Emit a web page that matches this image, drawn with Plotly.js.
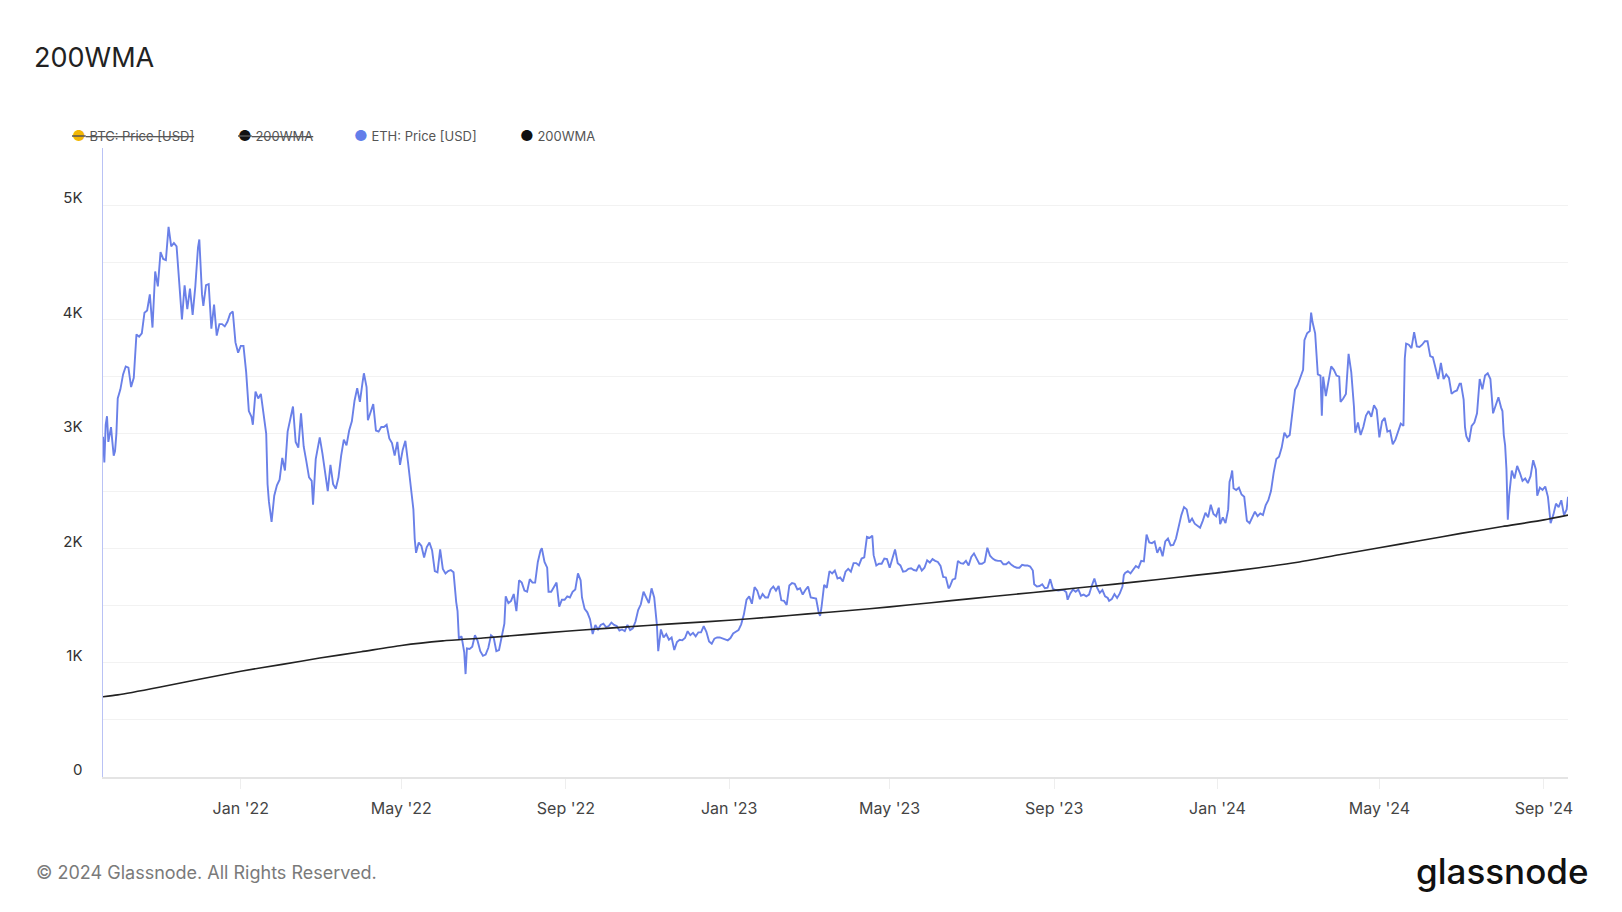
<!DOCTYPE html>
<html><head><meta charset="utf-8">
<script src="https://cdn.plot.ly/plotly-3.0.1.min.js"></script>
<style>html,body{margin:0;padding:0;background:#fff;}#chart{width:1622px;height:912px;}</style>
</head><body><div id="chart"></div>
<script>
const ethDates = [
"2021-09-20","2021-09-21","2021-09-22","2021-09-23","2021-09-24","2021-09-26","2021-09-27","2021-09-28","2021-09-29","2021-09-30",
"2021-10-01","2021-10-03","2021-10-05","2021-10-07","2021-10-09","2021-10-11","2021-10-13","2021-10-15","2021-10-17","2021-10-19","2021-10-21","2021-10-23","2021-10-25","2021-10-27","2021-10-29","2021-10-31",
"2021-11-02","2021-11-04","2021-11-06","2021-11-08","2021-11-10","2021-11-12","2021-11-14","2021-11-16","2021-11-18","2021-11-20","2021-11-22","2021-11-24","2021-11-26","2021-11-28","2021-11-30",
"2021-12-01","2021-12-03","2021-12-04","2021-12-06","2021-12-08","2021-12-10","2021-12-12","2021-12-14","2021-12-16","2021-12-18","2021-12-20","2021-12-22","2021-12-24","2021-12-26","2021-12-28","2021-12-30",
"2022-01-01","2022-01-03","2022-01-05","2022-01-07","2022-01-09","2022-01-10","2022-01-12","2022-01-14","2022-01-16","2022-01-18","2022-01-20","2022-01-21","2022-01-22","2022-01-24","2022-01-26","2022-01-28","2022-01-30",
"2022-02-01","2022-02-03","2022-02-05","2022-02-07","2022-02-09","2022-02-11","2022-02-13","2022-02-15","2022-02-17","2022-02-19","2022-02-21","2022-02-23","2022-02-24","2022-02-26","2022-02-28",
"2022-03-01","2022-03-03","2022-03-05","2022-03-07","2022-03-09","2022-03-11","2022-03-13","2022-03-15","2022-03-17","2022-03-19","2022-03-21","2022-03-23","2022-03-25","2022-03-27","2022-03-29","2022-03-31",
"2022-04-02","2022-04-03","2022-04-05","2022-04-06","2022-04-08","2022-04-10","2022-04-12","2022-04-14","2022-04-16","2022-04-18","2022-04-20","2022-04-22","2022-04-24","2022-04-26","2022-04-28","2022-04-30",
"2022-05-02","2022-05-04","2022-05-06","2022-05-08","2022-05-10","2022-05-11","2022-05-12","2022-05-14","2022-05-16","2022-05-18","2022-05-20","2022-05-22","2022-05-24","2022-05-26","2022-05-28","2022-05-30",
"2022-06-01","2022-06-03","2022-06-05","2022-06-07","2022-06-09","2022-06-11","2022-06-12","2022-06-13","2022-06-15","2022-06-17","2022-06-18","2022-06-19","2022-06-21","2022-06-23","2022-06-25","2022-06-27","2022-06-29",
"2022-07-01","2022-07-03","2022-07-05","2022-07-07","2022-07-09","2022-07-11","2022-07-13","2022-07-15","2022-07-17","2022-07-18","2022-07-20","2022-07-22","2022-07-24","2022-07-26","2022-07-28","2022-07-30",
"2022-08-01","2022-08-03","2022-08-05","2022-08-07","2022-08-09","2022-08-11","2022-08-13","2022-08-14","2022-08-16","2022-08-18","2022-08-19","2022-08-21","2022-08-23","2022-08-25","2022-08-27","2022-08-29","2022-08-31",
"2022-09-02","2022-09-04","2022-09-06","2022-09-08","2022-09-10","2022-09-12","2022-09-13","2022-09-15","2022-09-17","2022-09-19","2022-09-21","2022-09-23","2022-09-25","2022-09-27","2022-09-29",
"2022-10-01","2022-10-03","2022-10-05","2022-10-07","2022-10-09","2022-10-11","2022-10-13","2022-10-15","2022-10-17","2022-10-19","2022-10-21","2022-10-23","2022-10-25","2022-10-27","2022-10-29","2022-10-31",
"2022-11-02","2022-11-04","2022-11-06","2022-11-08","2022-11-09","2022-11-11","2022-11-13","2022-11-15","2022-11-17","2022-11-19","2022-11-21","2022-11-23","2022-11-25","2022-11-27","2022-11-29",
"2022-12-01","2022-12-03","2022-12-05","2022-12-07","2022-12-09","2022-12-11","2022-12-13","2022-12-15","2022-12-17","2022-12-19","2022-12-21","2022-12-23","2022-12-25","2022-12-27","2022-12-29","2022-12-31",
"2023-01-02","2023-01-04","2023-01-06","2023-01-08","2023-01-10","2023-01-12","2023-01-14","2023-01-16","2023-01-18","2023-01-20","2023-01-22","2023-01-24","2023-01-26","2023-01-28","2023-01-30",
"2023-02-01","2023-02-03","2023-02-05","2023-02-07","2023-02-09","2023-02-11","2023-02-13","2023-02-15","2023-02-17","2023-02-19","2023-02-21","2023-02-23","2023-02-25","2023-02-27",
"2023-03-01","2023-03-03","2023-03-05","2023-03-07","2023-03-09","2023-03-10","2023-03-11","2023-03-13","2023-03-15","2023-03-17","2023-03-19","2023-03-21","2023-03-23","2023-03-25","2023-03-27","2023-03-29","2023-03-31",
"2023-04-02","2023-04-04","2023-04-06","2023-04-08","2023-04-10","2023-04-12","2023-04-14","2023-04-16","2023-04-18","2023-04-19","2023-04-21","2023-04-23","2023-04-25","2023-04-27","2023-04-29",
"2023-05-01","2023-05-03","2023-05-05","2023-05-07","2023-05-09","2023-05-11","2023-05-13","2023-05-15","2023-05-17","2023-05-19","2023-05-21","2023-05-23","2023-05-25","2023-05-27","2023-05-29","2023-05-31",
"2023-06-02","2023-06-04","2023-06-06","2023-06-08","2023-06-10","2023-06-12","2023-06-14","2023-06-15","2023-06-17","2023-06-19","2023-06-21","2023-06-23","2023-06-25","2023-06-27","2023-06-29",
"2023-07-01","2023-07-03","2023-07-05","2023-07-07","2023-07-09","2023-07-11","2023-07-13","2023-07-15","2023-07-17","2023-07-19","2023-07-21","2023-07-23","2023-07-25","2023-07-27","2023-07-29","2023-07-31",
"2023-08-02","2023-08-04","2023-08-06","2023-08-08","2023-08-10","2023-08-12","2023-08-14","2023-08-16","2023-08-17","2023-08-19","2023-08-21","2023-08-23","2023-08-25","2023-08-27","2023-08-29","2023-08-31",
"2023-09-02","2023-09-04","2023-09-06","2023-09-08","2023-09-10","2023-09-11","2023-09-13","2023-09-15","2023-09-17","2023-09-19","2023-09-21","2023-09-23","2023-09-25","2023-09-27","2023-09-29",
"2023-10-01","2023-10-03","2023-10-05","2023-10-07","2023-10-09","2023-10-11","2023-10-12","2023-10-14","2023-10-16","2023-10-18","2023-10-20","2023-10-22","2023-10-23","2023-10-24","2023-10-26","2023-10-28","2023-10-30",
"2023-11-01","2023-11-03","2023-11-05","2023-11-07","2023-11-09","2023-11-11","2023-11-13","2023-11-15","2023-11-17","2023-11-19","2023-11-21","2023-11-23","2023-11-25","2023-11-27","2023-11-29",
"2023-12-01","2023-12-03","2023-12-05","2023-12-07","2023-12-09","2023-12-11","2023-12-13","2023-12-15","2023-12-17","2023-12-19","2023-12-21","2023-12-23","2023-12-25","2023-12-27","2023-12-29","2023-12-31",
"2024-01-02","2024-01-03","2024-01-05","2024-01-07","2024-01-09","2024-01-10","2024-01-11","2024-01-12","2024-01-13","2024-01-15","2024-01-17","2024-01-19","2024-01-21","2024-01-22","2024-01-23","2024-01-25","2024-01-27","2024-01-29","2024-01-31",
"2024-02-02","2024-02-04","2024-02-06","2024-02-08","2024-02-10","2024-02-12","2024-02-14","2024-02-16","2024-02-18","2024-02-20","2024-02-22","2024-02-24","2024-02-26","2024-02-28",
"2024-03-01","2024-03-03","2024-03-05","2024-03-06","2024-03-08","2024-03-10","2024-03-11","2024-03-12","2024-03-14","2024-03-16","2024-03-18","2024-03-19","2024-03-20","2024-03-22","2024-03-24","2024-03-26","2024-03-28","2024-03-30",
"2024-04-01","2024-04-02","2024-04-04","2024-04-06","2024-04-08","2024-04-10","2024-04-12","2024-04-13","2024-04-15","2024-04-17","2024-04-19","2024-04-21","2024-04-23","2024-04-25","2024-04-27","2024-04-29",
"2024-05-01","2024-05-03","2024-05-05","2024-05-07","2024-05-09","2024-05-11","2024-05-13","2024-05-15","2024-05-17","2024-05-19","2024-05-20","2024-05-21","2024-05-23","2024-05-25","2024-05-27","2024-05-29","2024-05-31",
"2024-06-02","2024-06-04","2024-06-06","2024-06-08","2024-06-10","2024-06-12","2024-06-14","2024-06-16","2024-06-18","2024-06-20","2024-06-22","2024-06-24","2024-06-26","2024-06-28","2024-06-30",
"2024-07-01","2024-07-03","2024-07-04","2024-07-05","2024-07-07","2024-07-09","2024-07-11","2024-07-13","2024-07-15","2024-07-17","2024-07-19","2024-07-21","2024-07-23","2024-07-25","2024-07-27","2024-07-29","2024-07-31",
"2024-08-01","2024-08-02","2024-08-03","2024-08-04","2024-08-05","2024-08-06","2024-08-08","2024-08-10","2024-08-12","2024-08-14","2024-08-16","2024-08-18","2024-08-20","2024-08-22","2024-08-24","2024-08-26","2024-08-27","2024-08-29","2024-08-31",
"2024-09-02","2024-09-04","2024-09-06","2024-09-08","2024-09-10","2024-09-12","2024-09-14","2024-09-16","2024-09-18","2024-09-19"
];
const ethPrice = [
2975,2750,3080,3155,2930,3060,2930,2810,2850,3000,
3310,3390,3520,3590,3580,3410,3490,3870,3850,3880,4060,4080,4220,3930,4420,4290,
4590,4530,4520,4810,4640,4670,4640,4270,4000,4300,4090,4270,4040,4290,4630,
4700,4220,4120,4300,4310,3920,4130,3860,3960,3960,3940,3980,4050,4070,3800,3710,
3770,3770,3540,3200,3150,3080,3370,3310,3350,3160,3000,2560,2410,2230,2460,2550,2600,
2790,2680,3020,3140,3240,2930,2880,3180,2890,2760,2620,2590,2380,2780,2920,
2970,2830,2660,2500,2730,2560,2520,2620,2810,2950,2900,3030,3110,3290,3400,3280,
3450,3530,3410,3120,3190,3260,3030,3020,3060,3060,3080,2960,2920,2810,2930,2730,
2860,2940,2750,2520,2340,2080,1960,2050,2020,1920,2010,2050,1980,1800,1790,1990,
1820,1780,1800,1810,1790,1530,1450,1210,1230,1090,900,1125,1120,1140,1240,1190,1100,
1060,1070,1130,1240,1220,1100,1110,1230,1340,1580,1520,1540,1600,1450,1720,1700,
1630,1620,1730,1700,1700,1880,1980,2000,1880,1830,1620,1620,1660,1700,1490,1550,1550,
1580,1570,1620,1640,1780,1720,1570,1470,1440,1380,1250,1330,1290,1330,1340,
1310,1320,1350,1330,1320,1280,1290,1275,1330,1285,1300,1360,1460,1510,1620,1570,
1520,1650,1570,1330,1100,1290,1220,1250,1200,1220,1110,1180,1200,1195,1215,
1275,1240,1260,1230,1265,1265,1320,1270,1185,1165,1210,1220,1220,1210,1200,1195,
1215,1255,1270,1285,1335,1420,1550,1580,1515,1660,1630,1555,1600,1570,1570,
1640,1665,1630,1670,1545,1540,1505,1675,1695,1690,1640,1650,1595,1635,
1665,1570,1565,1560,1435,1410,1480,1680,1655,1800,1780,1805,1735,1745,1710,1795,1820,
1795,1870,1870,1850,1910,1920,2100,2090,2110,1940,1850,1865,1865,1910,1905,
1830,1905,1990,1870,1850,1795,1800,1820,1825,1810,1805,1855,1805,1830,1895,1875,
1905,1890,1880,1845,1750,1745,1650,1665,1725,1735,1890,1870,1865,1890,1850,
1925,1955,1910,1865,1865,1880,2005,1935,1910,1895,1890,1890,1860,1860,1880,1855,
1840,1830,1830,1855,1850,1850,1840,1805,1685,1665,1670,1685,1650,1655,1730,1645,
1635,1630,1635,1635,1615,1550,1605,1640,1620,1640,1585,1595,1580,1595,1670,
1735,1655,1610,1635,1580,1565,1540,1555,1600,1565,1605,1665,1765,1785,1800,1780,1810,
1845,1830,1890,1885,2120,2050,2045,2060,1960,2010,1930,2060,2085,2025,2030,
2085,2190,2290,2360,2340,2225,2260,2215,2195,2180,2240,2310,2270,2380,2300,2280,
2355,2210,2270,2220,2340,2580,2620,2680,2525,2510,2530,2470,2450,2310,2240,2220,2265,2320,2280,
2305,2290,2375,2420,2500,2660,2780,2800,2880,3010,2970,2990,3180,3385,
3430,3490,3560,3820,3880,3900,4060,3980,3880,3520,3510,3160,3500,3330,3450,3590,3560,3510,
3500,3280,3310,3350,3700,3540,3240,3010,3100,2990,3060,3160,3200,3150,3250,3210,
2970,3110,3140,3020,3030,2910,2950,3030,3090,3070,3660,3790,3780,3750,3890,3765,3760,
3780,3810,3810,3680,3670,3560,3480,3620,3480,3520,3490,3350,3370,3380,3440,
3440,3300,3060,2980,2930,3070,3100,3180,3480,3390,3510,3530,3480,3180,3250,3320,3230,
3200,2990,2900,2690,2250,2460,2680,2610,2720,2660,2590,2610,2570,2630,2770,2690,2460,2530,2510,
2540,2450,2220,2290,2390,2360,2420,2290,2340,2450
];
const wmaDates = ["2021-09-20","2021-10-01","2021-11-01","2021-12-01","2022-01-01","2022-02-01","2022-03-01","2022-04-01","2022-05-01","2022-06-01","2022-07-01","2022-08-01","2022-09-01","2022-10-01","2022-11-01","2022-12-01","2023-01-01","2023-02-01","2023-03-01","2023-04-01","2023-05-01","2023-06-01","2023-07-01","2023-08-01","2023-09-01","2023-10-01","2023-11-01","2023-12-01","2024-01-01","2024-02-01","2024-03-01","2024-04-01","2024-05-01","2024-06-01","2024-07-01","2024-08-01","2024-09-01","2024-09-19"];
const wmaValues = [702,718,785,855,925,985,1040,1095,1150,1190,1215,1245,1275,1300,1325,1348,1370,1398,1426,1456,1488,1524,1560,1596,1632,1668,1706,1745,1785,1830,1878,1943,2005,2068,2130,2190,2248,2290];

const yTickVals = [0,500,1000,1500,2000,2500,3000,3500,4000,4500,5000,5500];
const yTickText = ["0","","1K","","2K","","3K","","4K","","5K",""];
const xTickVals = ["2022-01-01","2022-05-01","2022-09-01","2023-01-01","2023-05-01","2023-09-01","2024-01-01","2024-05-01","2024-09-01"];
const legendNames = ["BTC: Price [USD]","200WMA","ETH: Price [USD]","200WMA"];
const legendColors = ["#F2B705","#111111","#627EEA","#111111"];
const legendHidden = [true,true,false,false];

const W = 1622, H = 912, L = 103, R = 54, T = 148, B = 135;
const pw = W - L - R, ph = H - T - B;
const px2x = p => (p - L) / pw;
const px2y = p => (H - B - p) / ph;
const FONT = "Inter, 'Noto Sans', sans-serif";

const legendLeft = [70, 236, 352, 518];
const annotations = legendNames.map((n, i) => {
  const dot = `<span style="color:${legendColors[i]};font-size:15px">●</span> `;
  const txt = legendHidden[i] ? `<s>${dot}${n}</s>` : `${dot}${n}`;
  return {xref:'paper', yref:'paper', x: px2x(legendLeft[i]), y: px2y(135), xanchor:'left', yanchor:'middle',
    text: txt, showarrow:false, font:{family:FONT, size:13, color:'#555'}};
});
annotations.push({xref:'paper', yref:'paper', x: px2x(34), y: px2y(873), xanchor:'left', yanchor:'middle',
  text:'© 2024 Glassnode. All Rights Reserved.', showarrow:false, font:{family:FONT, size:18, color:'#7a7a7a'}});
annotations.push({xref:'paper', yref:'paper', x: px2x(1590), y: px2y(871), xanchor:'right', yanchor:'middle',
  text:'glassnode', showarrow:false, font:{family:FONT, size:35, color:'#111', weight:500}});

const traces = [
  {x: ethDates, y: ethPrice, type:'scatter', mode:'lines', name:'ETH: Price [USD]',
   line:{color:'#6A80E8', width:1.9}, hoverinfo:'x+y'},
  {x: wmaDates, y: wmaValues, type:'scatter', mode:'lines', name:'200WMA',
   line:{color:'#222', width:1.6, shape:'spline', smoothing:0.6}, hoverinfo:'x+y'}
];

const layout = {
  width: W, height: H, paper_bgcolor:'#fff', plot_bgcolor:'#fff',
  margin:{l:L, r:R, t:T, b:B, pad:0},
  showlegend:false,
  title:{text:'200WMA', x:34/W, xref:'container', xanchor:'left', y:1-58/H, yref:'container', yanchor:'middle',
    font:{family:FONT, size:27, color:'#222'}},
  xaxis:{type:'date', range:['2021-09-20','2024-09-19'], tickvals:xTickVals, tickformat:"%b '%y",
    showgrid:false, zeroline:false, showline:true, linecolor:'#e4e4e4', linewidth:1.5,
    ticks:'outside', ticklen:10, tickcolor:'#eeeeee', tickwidth:1,
    tickfont:{family:FONT, size:16, color:'#444'}, ticklabelstandoff:6},
  yaxis:{range:[0,5500], tickvals:yTickVals, ticktext:yTickText,
    showgrid:true, gridcolor:'#f2f2f2', gridwidth:1, zeroline:false,
    showline:true, linecolor:'#b9c2f5', linewidth:1.5, ticks:'',
    tickfont:{family:FONT, size:15, color:'#333'}, ticklabelshift:-7, ticklabelstandoff:16},
  annotations: annotations
};

Plotly.newPlot('chart', traces, layout, {displayModeBar:false, staticPlot:true});
</script>
</body></html>
